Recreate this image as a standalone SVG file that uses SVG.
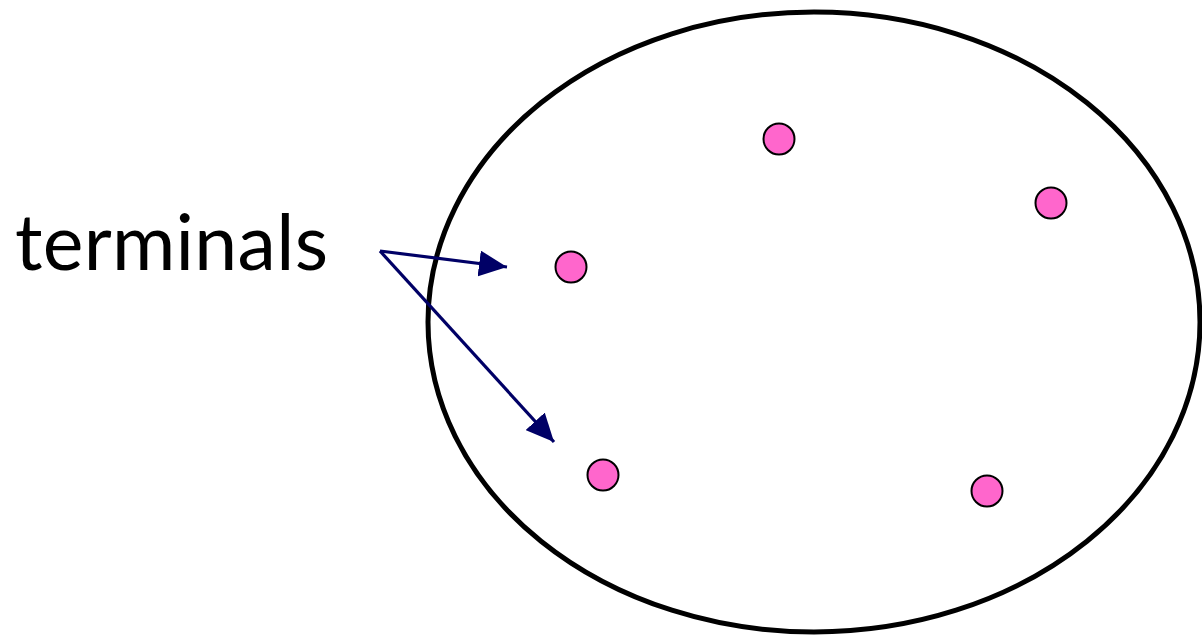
<svg xmlns="http://www.w3.org/2000/svg" width="1202" height="637" viewBox="0 0 1202 637">
<defs>
<style>
.term{fill:#ff66cc;stroke:#000;stroke-width:2}
.arr{stroke:#000066;stroke-width:3.2;fill:none}
</style>
<marker id="ah" markerUnits="userSpaceOnUse" markerWidth="30" markerHeight="26" refX="28" refY="13" orient="auto" viewBox="0 0 30 26">
<path d="M0,0 L28,13 L0,26 Z" fill="#000066"/>
</marker>
</defs>
<rect width="1202" height="637" fill="#fff"/>
<g id="region"><ellipse cx="814" cy="322" rx="386" ry="310" fill="none" stroke="#000" stroke-width="5"/></g>
<g id="t1"><circle class="term" cx="779" cy="139" r="15.5"/></g>
<g id="t2"><circle class="term" cx="1051" cy="203" r="15.5"/></g>
<g id="t3"><circle class="term" cx="571" cy="267" r="15.5"/></g>
<g id="t4"><circle class="term" cx="603" cy="475" r="15.5"/></g>
<g id="t5"><circle class="term" cx="987" cy="491" r="15.5"/></g>
<g id="label"><text x="15" y="270" font-family="Lato, sans-serif" font-size="77" textLength="313" lengthAdjust="spacing" fill="#000">terminals</text></g>
<g id="connectors">
<line class="arr" x1="380" y1="251" x2="507" y2="267" marker-end="url(#ah)"/>
<line class="arr" x1="380" y1="251" x2="554" y2="442" marker-end="url(#ah)"/>
</g>
</svg>
